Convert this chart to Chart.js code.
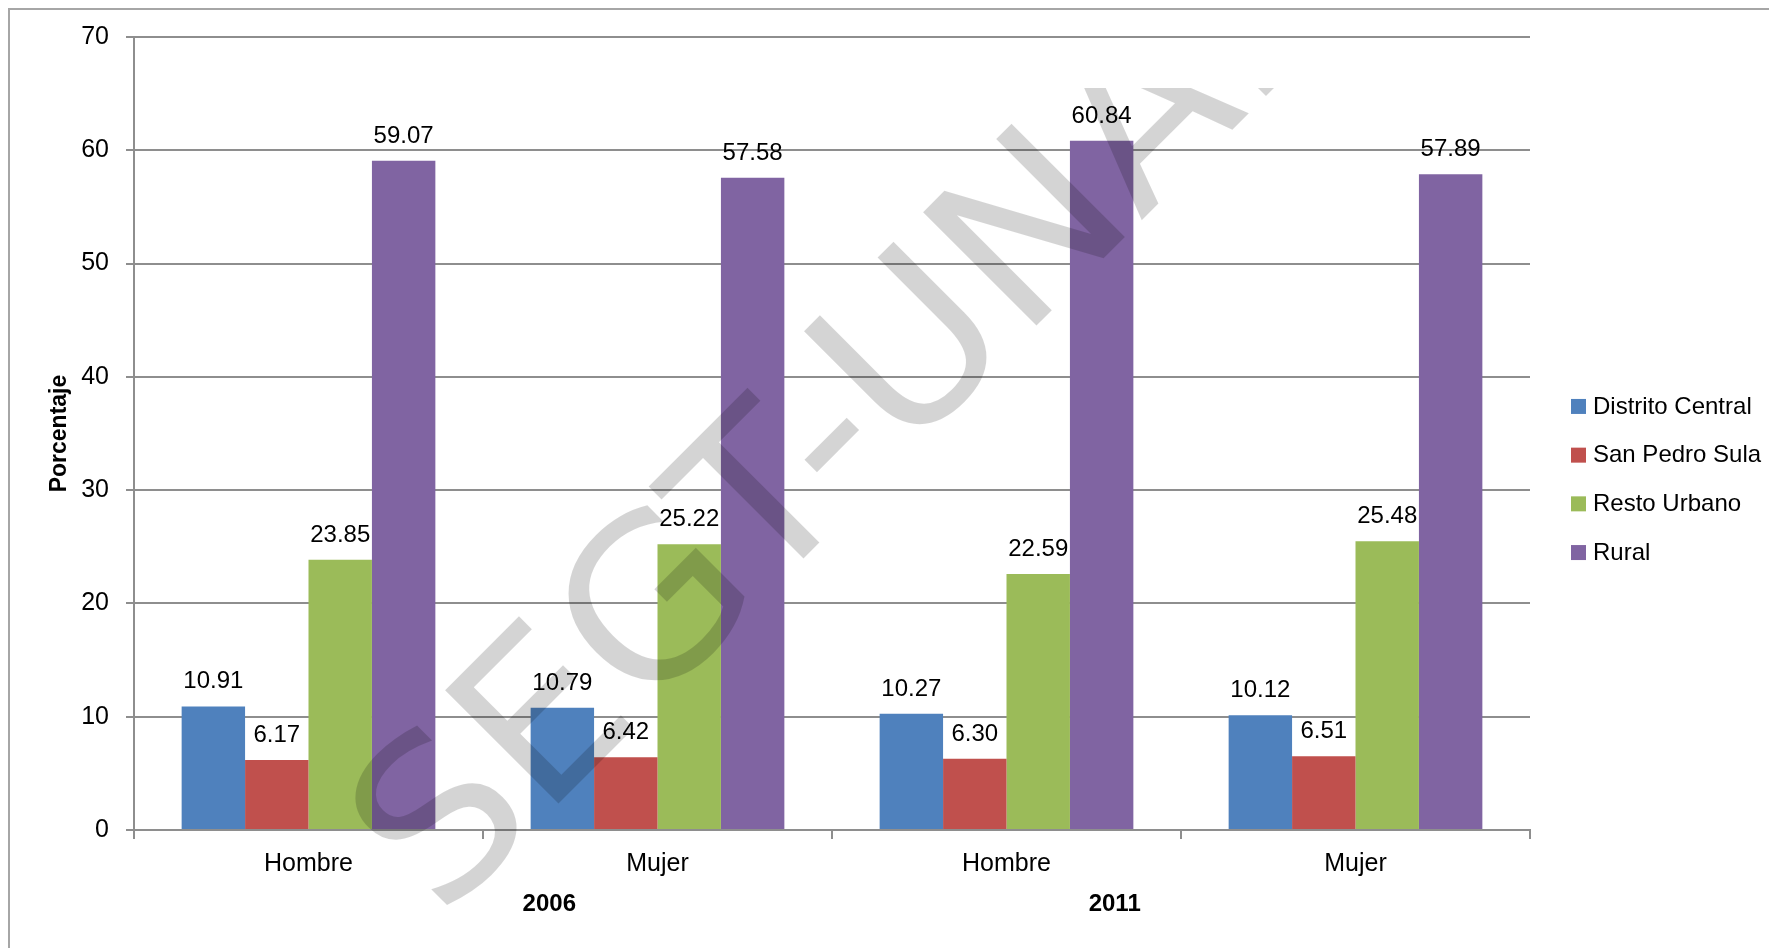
<!DOCTYPE html>
<html>
<head>
<meta charset="utf-8">
<script src="https://cdn.jsdelivr.net/npm/chart.js@4.4.1/dist/chart.umd.min.js"></script>
<style>
  html, body { margin: 0; padding: 0; background: #fff; }
  #wrap { position: relative; width: 1769px; height: 948px; overflow: hidden; }
  #frame { position: absolute; left: 8px; top: 8px; right: -4px; bottom: -4px; border-left: 2px solid #a6a6a6; border-top: 2px solid #a6a6a6; }
  canvas { position: absolute; left: 0; top: 0; }
</style>
</head>
<body>
<div id="wrap">
  <div id="frame"></div>
  <canvas id="chart" width="1769" height="948"></canvas>
</div>
<script>
const categories = ["Hombre", "Mujer", "Hombre", "Mujer"];
const years = ["2006", "2011"];
const seriesNames = ["Distrito Central", "San Pedro Sula", "Resto Urbano", "Rural"];
const distritoCentral = [10.91, 10.79, 10.27, 10.12];
const sanPedroSula = [6.17, 6.42, 6.30, 6.51];
const restoUrbano = [23.85, 25.22, 22.59, 25.48];
const rural = [59.07, 57.58, 60.84, 57.89];
const yTicks = [0, 10, 20, 30, 40, 50, 60, 70];
const yTitle = "Porcentaje";
const watermark = "SEGT-UNAH";

const colors = ["#4F81BD", "#C0504D", "#9BBB59", "#8064A2"];
const FONT = "'Liberation Sans', Arial, sans-serif";
const GRID = "#8e8e8e";

const seriesData = [distritoCentral, sanPedroSula, restoUrbano, rural];

// value labels above every bar
const valueLabels = {
  id: "valueLabels",
  afterDatasetsDraw(chart) {
    const ctx = chart.ctx;
    ctx.save();
    ctx.font = `24px ${FONT}`;
    ctx.fillStyle = "#000";
    ctx.textAlign = "center";
    ctx.textBaseline = "alphabetic";
    chart.data.datasets.forEach((ds, i) => {
      chart.getDatasetMeta(i).data.forEach((bar, j) => {
        ctx.fillText(ds.data[j].toFixed(2), bar.x, bar.y - 18);
      });
    });
    ctx.restore();
  }
};

// axis title, year row, legend, watermark
const extras = {
  id: "extras",
  afterDraw(chart) {
    const ctx = chart.ctx;
    const area = chart.chartArea;
    const xs = chart.scales.x;
    ctx.save();

    // y title
    ctx.save();
    ctx.translate(area.left - 74, (area.top + area.bottom) / 2);
    ctx.rotate(-Math.PI / 2);
    ctx.font = `bold 23px ${FONT}`;
    ctx.fillStyle = "#000";
    ctx.textAlign = "center";
    ctx.textBaseline = "middle";
    ctx.fillText(yTitle, 0, 0);
    ctx.restore();

    // year row under the categories
    const catW = (xs.right - xs.left) / categories.length;
    ctx.font = `bold 24px ${FONT}`;
    ctx.fillStyle = "#000";
    ctx.textAlign = "center";
    ctx.textBaseline = "middle";
    years.forEach((y, k) => {
      const center = xs.getPixelForValue(k * 2 + 0.5);
      const shift = (k === 0 ? 1 : -1) * catW * 0.19;
      ctx.fillText(y, center + shift, area.bottom + 74);
    });

    // legend
    const rowH = 48.7;
    const n = chart.data.datasets.length;
    const y0 = chart.height / 2 + 6 - rowH * (n - 1) / 2;
    ctx.font = `24px ${FONT}`;
    ctx.textAlign = "left";
    chart.data.datasets.forEach((ds, i) => {
      const cy = y0 + i * rowH;
      ctx.fillStyle = ds.backgroundColor;
      ctx.fillRect(area.right + 41, cy - 8, 15, 15);
      ctx.fillStyle = "#000";
      ctx.fillText(ds.label, area.right + 63, cy);
    });

    // watermark, diagonal over the plot
    ctx.beginPath();
    ctx.rect(0, 88, chart.width, chart.height - 88);
    ctx.clip();
    ctx.translate(441, 921);
    ctx.rotate(-Math.PI / 4);
    ctx.scale(1.03, 1);
    ctx.font = `220px 'DejaVu Sans', sans-serif`;
    ctx.fillStyle = "rgba(0,0,0,0.17)";
    ctx.textAlign = "left";
    ctx.textBaseline = "alphabetic";
    ctx.fillText(watermark, 0, 0);

    ctx.restore();
  }
};

new Chart(document.getElementById("chart").getContext("2d"), {
  type: "bar",
  data: {
    labels: categories,
    datasets: seriesNames.map((name, i) => ({
      label: name,
      data: seriesData[i],
      backgroundColor: colors[i],
      borderWidth: 0,
      categoryPercentage: 0.727,
      barPercentage: 1.0
    }))
  },
  options: {
    responsive: false,
    animation: false,
    devicePixelRatio: 1,
    layout: { padding: { top: 37, right: 239, left: 0, bottom: 0 } },
    plugins: { legend: { display: false }, tooltip: { enabled: false } },
    scales: {
      x: {
        grid: { drawOnChartArea: false, drawTicks: true, tickLength: 9, color: GRID, lineWidth: 2 },
        border: { color: GRID, width: 2 },
        ticks: { color: "#000", font: { family: FONT, size: 25 }, padding: 10 },
        afterFit(s) { s.height = 118; }
      },
      y: {
        min: 0,
        max: 70,
        afterBuildTicks(s) { s.ticks = yTicks.map((v) => ({ value: v })); },
        grid: { color: GRID, lineWidth: 2, tickLength: 8 },
        border: { color: GRID, width: 2 },
        ticks: { color: "#000", font: { family: FONT, size: 25 }, padding: 17 },
        afterFit(s) { s.width = 134; }
      }
    }
  },
  plugins: [valueLabels, extras]
});
</script>
</body>
</html>
